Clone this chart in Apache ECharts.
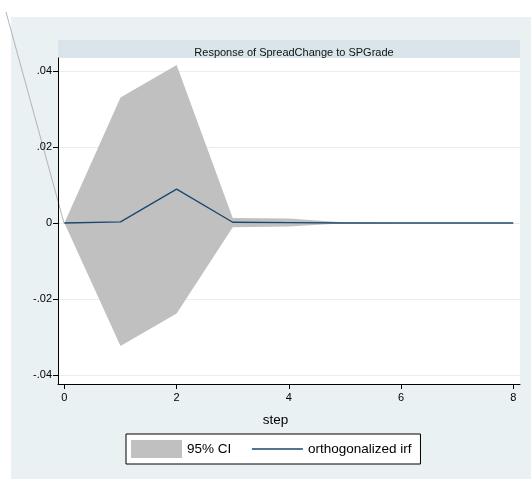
<!DOCTYPE html>
<html>
<head>
<meta charset="utf-8">
<script src="https://cdn.jsdelivr.net/npm/echarts@6/dist/echarts.min.js"></script>
<style>html,body{margin:0;padding:0;background:#fff}#c{width:531px;height:479px}</style>
</head>
<body>
<div id="c"></div>
<script>
const steps = [0, 1, 2, 3, 4, 5, 6, 7, 8];
const irf = [0, 0.0003, 0.0089, 0.0002, 0.0001, 0, 0, 0, 0];
const ciUpper = [0, 0.0330, 0.0416, 0.0013, 0.0012, 0.0001, 0, 0, 0];
const ciLower = [0, -0.0324, -0.0238, -0.0011, -0.0009, -0.0001, 0, 0, 0];
const xTicks = [0, 2, 4, 6, 8];
const yTicks = [-0.04, -0.02, 0, 0.02, 0.04];
const yTickLabels = ['-.04', '-.02', '0', '.02', '.04'];
const titleText = 'Response of SpreadChange to SPGrade';
const xTitle = 'step';
const seriesNames = ['95% CI', 'orthogonalized irf'];

const FONT = 'Liberation Sans, Arial, Helvetica, sans-serif';
const chart = echarts.init(document.getElementById('c'), null, {renderer: 'canvas'});

chart.setOption({
  animation: false,
  backgroundColor: '#ffffff',
  textStyle: {fontFamily: FONT},
  title: {
    text: titleText,
    left: 289, top: 42, textAlign: 'center',
    textStyle: {fontSize: 11, fontWeight: 'normal', color: '#111', fontFamily: FONT}
  },
  graphic: [
    {type: 'rect', z: -10, shape: {x: 11, y: 17, width: 520, height: 462}, style: {fill: '#e9f1f3'}},
    {type: 'rect', z: -9, shape: {x: 58, y: 40, width: 462, height: 18}, style: {fill: '#d9e5eb'}},
    {type: 'rect', z: -9, shape: {x: 58, y: 58, width: 462, height: 326}, style: {fill: '#ffffff'}},
    {type: 'line', z: -5, shape: {x1: 6, y1: 12, x2: 64, y2: 223}, style: {stroke: '#b4b4b4', lineWidth: 1}}
  ],
  grid: {left: 58, right: 11, top: 58, bottom: 95, containLabel: false},
  legend: {
    left: 126, top: 434,
    orient: 'horizontal',
    padding: [6, 9, 6, 5],
    itemGap: 20,
    itemWidth: 51, itemHeight: 18,
    backgroundColor: '#ffffff',
    borderColor: '#000', borderWidth: 1, borderRadius: 0,
    textStyle: {fontSize: 13.5, color: '#000', fontFamily: FONT},
    data: [
      {name: seriesNames[0], icon: 'rect'},
      {name: seriesNames[1], itemStyle: {opacity: 0, borderWidth: 0}, lineStyle: {color: '#1a476f', width: 1.3}}
    ]
  },
  xAxis: {
    type: 'value', min: -0.114, max: 8.12,
    name: xTitle, nameLocation: 'middle', nameGap: 29,
    nameTextStyle: {fontSize: 13.5, color: '#000', padding: [0, 27, 0, 0], fontFamily: FONT},
    axisLine: {show: true, onZero: false, lineStyle: {color: '#000', width: 1}},
    axisTick: {show: true, length: 5, customValues: xTicks, lineStyle: {color: '#000'}},
    axisLabel: {customValues: xTicks, fontSize: 11, color: '#000', margin: 8, fontFamily: FONT},
    splitLine: {show: false}
  },
  yAxis: {
    type: 'value', min: -0.04237, max: 0.04342,
    axisLine: {show: true, onZero: false, lineStyle: {color: '#000', width: 1}},
    axisTick: {show: true, length: 5, customValues: yTicks, lineStyle: {color: '#000'}},
    axisLabel: {
      customValues: yTicks, fontSize: 11, color: '#000', margin: 6, fontFamily: FONT,
      formatter: function (v) {
        for (let i = 0; i < yTicks.length; i++) {
          if (Math.abs(v - yTicks[i]) < 1e-9) return yTickLabels[i];
        }
        return '';
      }
    },
    splitLine: {show: true, lineStyle: {color: '#e6eef1', width: 1}}
  },
  series: [
    {
      name: seriesNames[0],
      type: 'custom',
      itemStyle: {color: '#c0c0c0'},
      data: steps.map((s, i) => [s, ciLower[i], ciUpper[i]]),
      encode: {x: 0, y: [1, 2]},
      z: 2,
      renderItem: function (params, api) {
        if (params.dataIndex !== 0) return;
        const pts = [];
        for (let i = 0; i < steps.length; i++) pts.push(api.coord([steps[i], ciUpper[i]]));
        for (let i = steps.length - 1; i >= 0; i--) pts.push(api.coord([steps[i], ciLower[i]]));
        return {type: 'polygon', shape: {points: pts}, style: {fill: '#c0c0c0'}};
      }
    },
    {
      name: seriesNames[1],
      type: 'line',
      symbol: 'none',
      z: 3,
      data: steps.map((s, i) => [s, irf[i]]),
      itemStyle: {color: '#1a476f'},
      lineStyle: {color: '#1a476f', width: 1.3}
    }
  ]
});
</script>
</body>
</html>
